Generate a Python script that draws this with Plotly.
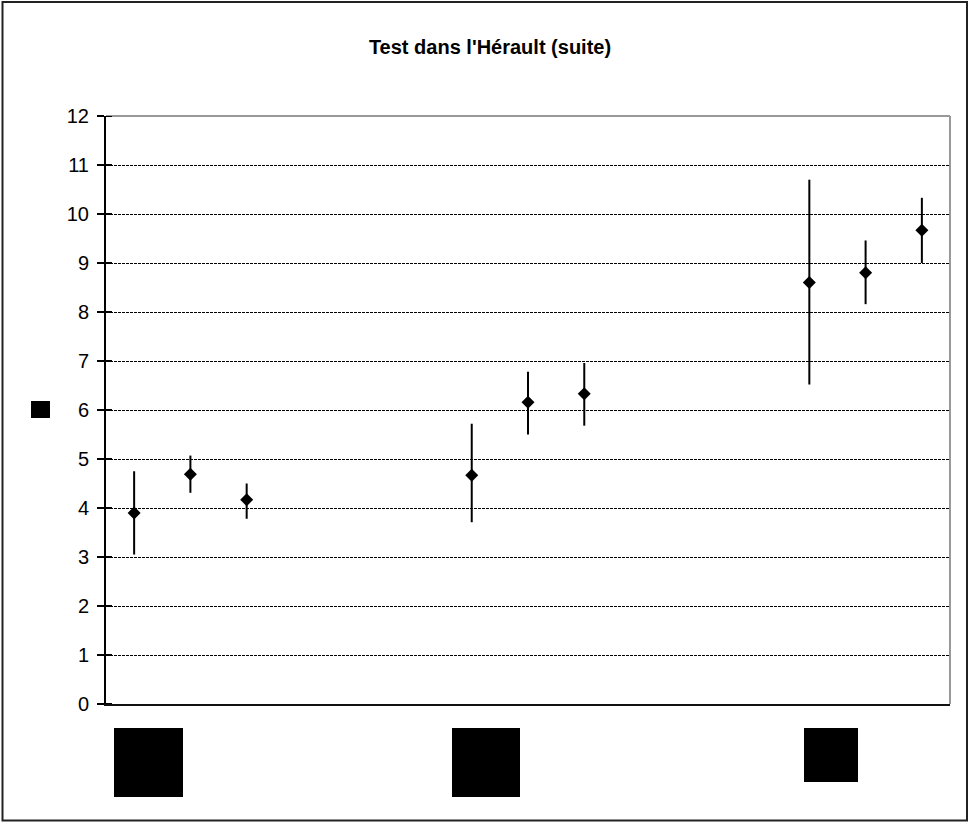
import plotly.graph_objects as go

# Data
slot = [0, 1, 2, 6, 7, 8, 12, 13, 14]
mean = [3.90, 4.69, 4.17, 4.67, 6.16, 6.33, 8.60, 8.80, 9.67]
upper = [4.75, 5.07, 4.50, 5.72, 6.78, 6.96, 10.70, 9.46, 10.33]
lower = [3.05, 4.31, 3.78, 3.71, 5.50, 5.68, 6.52, 8.16, 9.00]
y_ticks = list(range(0, 13))
title = "Test dans l'Hérault (suite)"

err_plus = [u - m for u, m in zip(upper, mean)]
err_minus = [m - l for m, l in zip(mean, lower)]

W, H = 969, 822
L, R, T, B = 106, 19, 116, 118
pw, ph = W - L - R, H - T - B

def px(x):
    return (x - L) / pw

def py(y):
    return (H - B - y) / ph

fig = go.Figure()
fig.add_trace(go.Scatter(
    x=slot, y=mean, mode="markers",
    marker=dict(symbol="diamond", size=10, color="black"),
    error_y=dict(type="data", symmetric=False, array=err_plus, arrayminus=err_minus,
                 color="black", thickness=2, width=0),
    showlegend=False, hoverinfo="skip",
))

shapes = []
# plot-area top/right grey border
shapes.append(dict(type="line", xref="paper", yref="paper", x0=0, x1=1, y0=1, y1=1,
                   line=dict(color="#999999", width=2), layer="above"))
shapes.append(dict(type="line", xref="paper", yref="paper", x0=1, x1=1, y0=0, y1=1,
                   line=dict(color="#999999", width=2), layer="above"))
# outer chart border
shapes.append(dict(type="rect", xref="paper", yref="paper",
                   x0=px(2.5), x1=px(967), y0=py(820.5), y1=py(2),
                   line=dict(color="#222222", width=2), layer="above"))
# placeholder glyph boxes (category labels / axis title rendered as boxes)
for (x0, x1, y0, y1) in [(114, 183, 728, 797), (452, 520, 728, 797),
                         (804, 858, 728, 782), (31, 50, 401, 418)]:
    shapes.append(dict(type="rect", xref="paper", yref="paper",
                       x0=px(x0), x1=px(x1), y0=py(y1), y1=py(y0),
                       fillcolor="black", line=dict(width=0), layer="above"))
# short inward part of y ticks (ticks cross the axis in the reference)
for v in y_ticks:
    shapes.append(dict(type="line", xref="paper", yref="y", x0=0, x1=px(L + 6),
                       y0=v, y1=v, line=dict(color="black", width=2), layer="above"))

fig.update_layout(
    width=W, height=H,
    margin=dict(l=L, r=R, t=T, b=B),
    paper_bgcolor="white", plot_bgcolor="white",
    title=dict(text="<b>" + title + "</b>", x=490 / W, xref="container", xanchor="center",
               y=1 - 47 / H, yanchor="middle",
               font=dict(family="Liberation Sans, Arial", size=20, color="black")),
    shapes=shapes,
    font=dict(family="Liberation Sans, Arial", color="black"),
)
fig.update_xaxes(range=[-0.5, 14.5], showgrid=False, showticklabels=False, ticks="",
                 showline=True, linecolor="#111111", linewidth=2, zeroline=False,
                 fixedrange=True)
fig.update_yaxes(range=[0, 12], tickvals=y_ticks, showgrid=True, gridcolor="black",
                 gridwidth=1, griddash="3px,1px", zeroline=False,
                 showline=True, linecolor="black", linewidth=2,
                 ticks="outside", ticklen=7, tickwidth=2, tickcolor="black",
                 ticklabelstandoff=4,
                 tickfont=dict(family="Liberation Sans, Arial", size=20, color="black"),
                 fixedrange=True)

fig.write_html("out.html")
